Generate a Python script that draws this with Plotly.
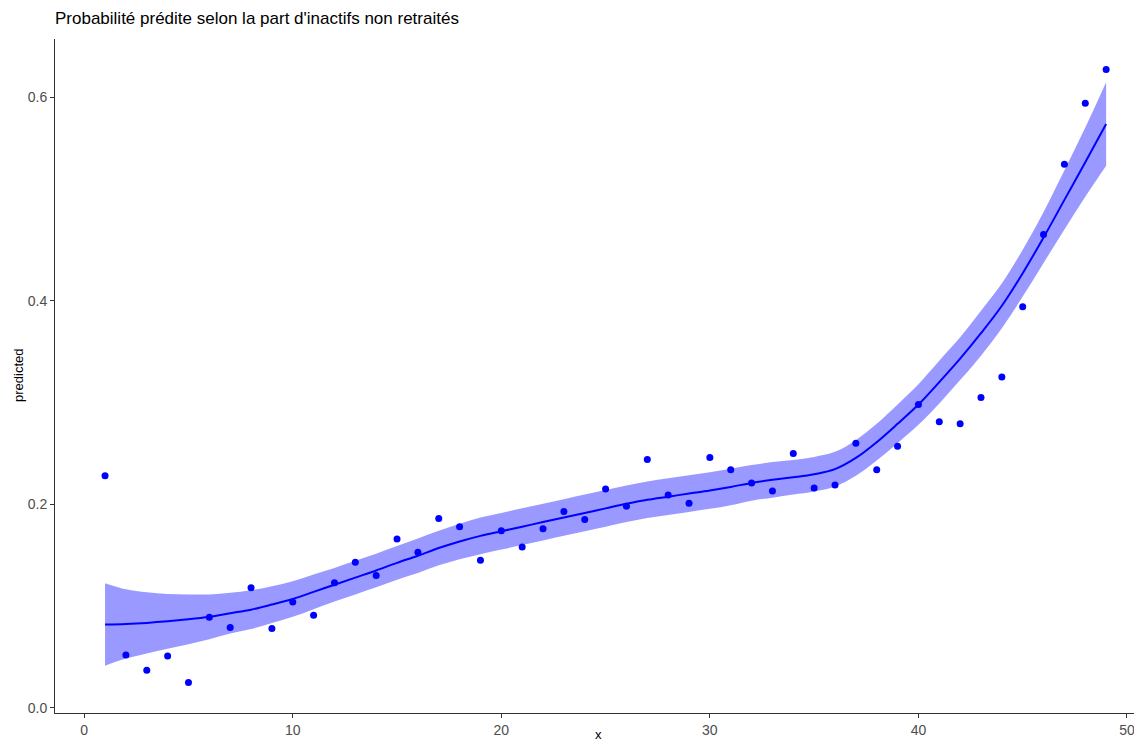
import plotly.graph_objects as go

# Observed points (x = 1..49)
x_vals = list(range(1, 50))
observed = [
    0.228, 0.052, 0.037, 0.051, 0.025, 0.089, 0.079, 0.118, 0.078, 0.104,
    0.091, 0.123, 0.143, 0.130, 0.166, 0.153, 0.186, 0.178, 0.145, 0.174,
    0.158, 0.176, 0.193, 0.185, 0.215, 0.198, 0.244, 0.209, 0.201, 0.246,
    0.234, 0.221, 0.213, 0.250, 0.216, 0.219, 0.260, 0.234, 0.257, 0.298,
    0.281, 0.279, 0.305, 0.325, 0.394, 0.465, 0.534, 0.594, 0.627,
]

# Smoothed fit and half-width of the confidence band
fit = [
    0.082, 0.0825, 0.0835, 0.085, 0.087, 0.0895, 0.093, 0.0965, 0.1015, 0.107,
    0.114, 0.121, 0.128, 0.135, 0.1425, 0.1495, 0.157, 0.1635, 0.169, 0.1735,
    0.178, 0.1825, 0.187, 0.1915, 0.196, 0.2005, 0.2045, 0.2075, 0.2105, 0.2135,
    0.217, 0.221, 0.224, 0.2265, 0.2295, 0.2345, 0.2455, 0.261, 0.279, 0.298,
    0.320, 0.343, 0.368, 0.395, 0.427, 0.462, 0.499, 0.536, 0.5735,
]
half_width = [
    0.0405, 0.034, 0.030, 0.027, 0.0245, 0.022, 0.020, 0.019, 0.018, 0.0175,
    0.017, 0.0165, 0.0165, 0.0165, 0.0165, 0.017, 0.017, 0.0175, 0.018, 0.018,
    0.018, 0.018, 0.018, 0.018, 0.018, 0.018, 0.018, 0.018, 0.018, 0.018,
    0.018, 0.0175, 0.0175, 0.017, 0.017, 0.017, 0.0175, 0.018, 0.019, 0.020,
    0.021, 0.021, 0.022, 0.022, 0.023, 0.025, 0.029, 0.034, 0.041,
]
lower = [f - h for f, h in zip(fit, half_width)]
upper = [f + h for f, h in zip(fit, half_width)]

title_text = "Probabilité prédite selon la part d'inactifs non retraités"
x_ticks = [0, 10, 20, 30, 40, 50]
y_ticks = [0.0, 0.2, 0.4, 0.6]
y_tick_labels = ["0.0", "0.2", "0.4", "0.6"]

BLUE = "#0000ff"
FONT = "Liberation Sans, Arial, Helvetica, sans-serif"

fig = go.Figure()
fig.add_trace(go.Scatter(x=x_vals, y=lower, mode="lines", line=dict(width=0, shape="spline"),
                         hoverinfo="skip", showlegend=False))
fig.add_trace(go.Scatter(x=x_vals, y=upper, mode="lines", line=dict(width=0, shape="spline"),
                         fill="tonexty", fillcolor="rgba(0,0,255,0.4)",
                         hoverinfo="skip", showlegend=False))
fig.add_trace(go.Scatter(x=x_vals, y=fit, mode="lines",
                         line=dict(color=BLUE, width=2, shape="spline"), showlegend=False))
fig.add_trace(go.Scatter(x=x_vals, y=observed, mode="markers",
                         marker=dict(color=BLUE, size=7, line=dict(width=0)), showlegend=False))

# The page body has an 8px margin, so the figure is sized/offset to compensate
OFF = 8
W, H = 1142 - OFF, 744 - OFF
L, R, T, B = 55 - OFF, 0, 39 - OFF, 31
pw, ph = W - L - R, H - T - B

fig.update_layout(
    width=W, height=H,
    margin=dict(l=L, r=R, t=T, b=B),
    paper_bgcolor="white", plot_bgcolor="white",
    font=dict(family=FONT, color="#333333"),
    title=dict(text=title_text, x=L / W, xanchor="left", xref="container",
               y=1 - (18 - OFF) / H, yanchor="middle", yref="container",
               font=dict(size=17, color="black", family=FONT)),
    xaxis=dict(range=[-1.4, 50.72], tickvals=x_ticks, ticktext=[str(v) for v in x_ticks],
               showgrid=False, zeroline=False, showline=True, linecolor="#333333", linewidth=1,
               ticks="outside", ticklen=4, tickcolor="#333333",
               tickfont=dict(size=14, color="#4d4d4d")),
    yaxis=dict(range=[-0.005, 0.657], tickvals=y_ticks, ticktext=y_tick_labels,
               showgrid=False, zeroline=False, showline=True, linecolor="#333333", linewidth=1,
               ticks="outside", ticklen=4, tickcolor="#333333",
               tickfont=dict(size=14, color="#4d4d4d")),
    annotations=[
        dict(text="predicted", xref="paper", yref="paper", x=(18 - 55) / pw, y=0.5,
             textangle=-90, showarrow=False, font=dict(size=13, color="black"),
             xanchor="center", yanchor="middle"),
        dict(text="x", xref="paper", yref="paper", x=(598 - 55) / pw, y=-(734 - 713) / ph,
             showarrow=False, font=dict(size=13, color="black"),
             xanchor="center", yanchor="middle"),
    ],
)

fig.write_html("out.html")
